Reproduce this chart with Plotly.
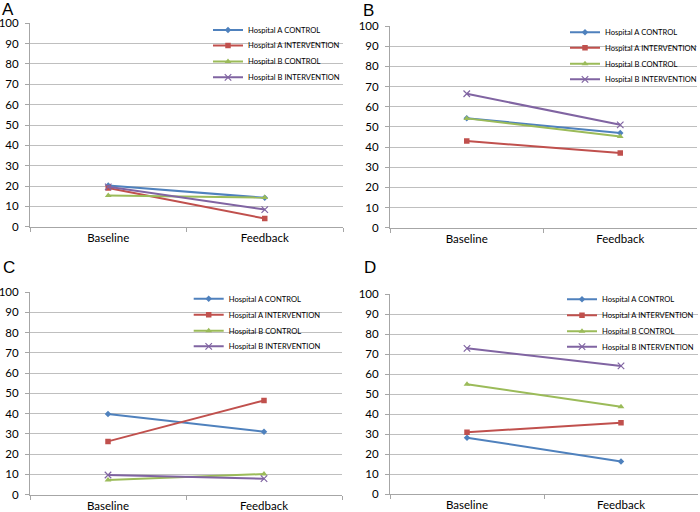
import plotly.graph_objects as go

W, H = 700, 512

categories = ["Baseline", "Feedback"]
series_names = ["Hospital A CONTROL", "Hospital A INTERVENTION",
                "Hospital B CONTROL", "Hospital B INTERVENTION"]
panel_labels = ["A", "B", "C", "D"]
y_ticks = list(range(0, 101, 10))

# values per panel: [A CONTROL, A INTERVENTION, B CONTROL, B INTERVENTION]
panel_A = [[20.3, 14.2], [19.0, 4.0], [15.3, 14.3], [19.6, 8.4]]
panel_B = [[54.3, 47.0], [43.0, 37.0], [54.2, 45.2], [66.4, 51.0]]
panel_C = [[39.8, 31.1], [26.3, 46.5], [7.2, 10.2], [9.7, 7.9]]
panel_D = [[28.3, 16.4], [31.0, 35.8], [55.0, 43.8], [73.0, 64.2]]
panels = [panel_A, panel_B, panel_C, panel_D]

colors = ["#4F81BD", "#C0504D", "#9BBB59", "#8064A2"]
symbols = ["diamond", "square", "triangle-up", "x-thin"]
msizes = [5, 5.5, 6, 6.5]

# plot areas in pixels: (left, top, right, bottom)
areas = [(30, 23.3, 343, 226.7), (390, 26, 697, 227.7),
         (30, 292, 342, 494.7), (390, 294.3, 698, 494.3)]
# legend layout: text start x and entry center y's
leg_text_x = [248, 605, 228.7, 602]
leg_ys = [[30, 45.5, 61.5, 77.3], [32.3, 47.7, 63.7, 79.3],
          [298.7, 314.7, 330.7, 346.3], [299.3, 315.3, 331.3, 346.7]]
# white legend boxes (left, top, right, bottom) in pixels
leg_boxes = [(224, 25, 343, 81), (583, 28, 697, 85),
             (204, 294, 342, 350), (570, 296, 698, 351)]
label_pos = [(0, 9), (361, 10), (1, 267), (362, 267)]

fig = go.Figure()
layout = dict(width=W, height=H,
              margin=dict(l=0, r=0, t=0, b=0, autoexpand=False),
              paper_bgcolor="white", plot_bgcolor="white", showlegend=True)

GRID = "#BFBFBF"
AXIS = "#A6A6A6"
FONT = "Lato, Calibri, Carlito, sans-serif"

annotations = []
shapes = []
leg_idx = 0
for p, vals in enumerate(panels):
    l, t, r, b = areas[p]
    xa = "xaxis" if p == 0 else f"xaxis{p+1}"
    ya = "yaxis" if p == 0 else f"yaxis{p+1}"
    xref = "x" if p == 0 else f"x{p+1}"
    yref = "y" if p == 0 else f"y{p+1}"
    layout[xa] = dict(domain=[l / W, r / W], anchor=yref, type="category",
                      categoryorder="array", categoryarray=categories,
                      range=[-0.5, 1.5], tickson="boundaries", ticks="outside",
                      ticklen=4, tickcolor=AXIS, showline=True, linecolor=AXIS,
                      linewidth=1, showgrid=False, zeroline=False,
                      tickfont=dict(family=FONT, size=11.5, color="#000"))
    layout[ya] = dict(domain=[1 - b / H, 1 - t / H], anchor=xref,
                      range=[0, 100], tickvals=y_ticks, ticks="outside",
                      ticklen=4, tickcolor=AXIS, showline=True, linecolor=AXIS,
                      linewidth=1, showgrid=True, gridcolor=GRID, gridwidth=1,
                      zeroline=False, ticklabelstandoff=4,
                      tickfont=dict(family=FONT, size=11.5, color="#000"))
    for s in range(4):
        leg_idx += 1
        lname = "legend" if leg_idx == 1 else f"legend{leg_idx}"
        fig.add_trace(go.Scatter(
            x=categories, y=vals[s], name=series_names[s], mode="lines+markers",
            xaxis=xref, yaxis=yref, legend=lname,
            line=dict(color=colors[s], width=2),
            marker=dict(symbol=symbols[s], size=msizes[s], color=colors[s],
                        line=dict(color=colors[s], width=1.2 if s == 3 else 0)),
        ))
        layout[lname] = dict(x=(leg_text_x[p] - 40) / W, xanchor="left",
                             y=1 - leg_ys[p][s] / H, yanchor="middle",
                             bgcolor="rgba(0,0,0,0)", borderwidth=0,
                             font=dict(family=FONT, size=7.6, color="#000"),
                             itemclick=False)
    bl, bt, br, bb = leg_boxes[p]
    shapes.append(dict(type="rect", xref="paper", yref="paper",
                       x0=bl / W, x1=br / W, y0=1 - bb / H, y1=1 - bt / H,
                       fillcolor="white", line=dict(width=0), layer="between"))
    lx, ly = label_pos[p]
    annotations.append(dict(text=panel_labels[p], x=lx / W, y=1 - ly / H,
                            xref="paper", yref="paper", xanchor="left",
                            yanchor="middle", showarrow=False,
                            font=dict(family="Liberation Sans, Arial", size=17,
                                      color="#000")))

layout["annotations"] = annotations
layout["shapes"] = shapes
fig.update_layout(**layout)
fig.write_html("out.html", config={"displayModeBar": False},
               post_script="document.body.style.margin='0';"
                           "document.body.style.padding='0';")
